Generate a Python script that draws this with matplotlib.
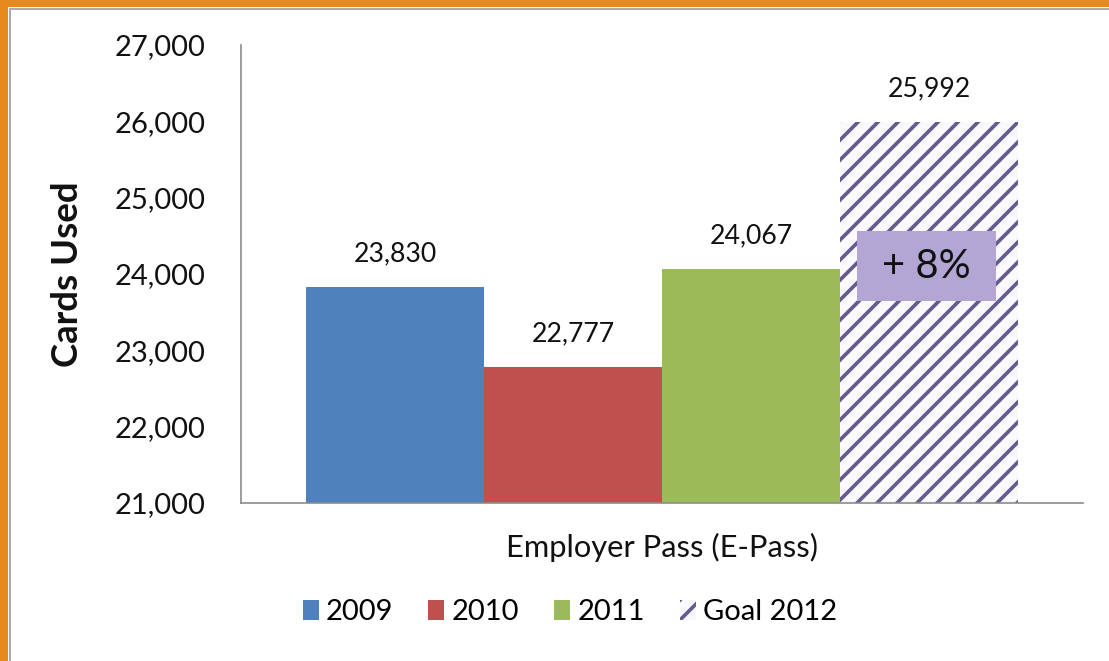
import matplotlib
matplotlib.use("Agg")
import matplotlib.pyplot as plt
from matplotlib.patches import Rectangle, Patch
from matplotlib.transforms import blended_transform_factory

# ---- data ----
categories = ["Employer Pass (E-Pass)"]
series_names = ["2009", "2010", "2011", "Goal 2012"]
values = [23830, 22777, 24067, 25992]
y_ticks = [21000, 22000, 23000, 24000, 25000, 26000, 27000]
y_label = "Cards Used"

# ---- style ----
colors = ["#4F81BD", "#C0504D", "#9BBB59", "#FBF8FD"]
hatch_color = "#625D8E"
font = "Lato"
DPI = 120

plt.rcParams["font.family"] = [font, "DejaVu Sans"]
plt.rcParams["hatch.linewidth"] = 2.2

fig = plt.figure(figsize=(1109 / DPI, 661 / DPI), dpi=DPI)
fig.patch.set_facecolor("white")

# frame: orange strips along top/left, thin grey inner rule
W, H = 1109, 661
def px_rect(x0, y0, w, h, color):
    fig.add_artist(Rectangle((x0 / W, 1 - (y0 + h) / H), w / W, h / H,
                             transform=fig.transFigure, facecolor=color,
                             edgecolor="none", zorder=0))
px_rect(0, 0, W, 6.5, "#E8891E")
px_rect(0, 0, 7.5, H, "#E8891E")
px_rect(9, 8, W, 2, "#ABABAB")
px_rect(9, 8, 2, H, "#ABABAB")

ax = fig.add_axes([241 / W, 1 - 503 / H, (1083 - 241) / W, (503 - 45) / H])

n = len(values)
width = 0.2114
offsets = [(i - (n - 1) / 2) * width for i in range(n)]

for i, (name, v) in enumerate(zip(series_names, values)):
    if i == n - 1:
        ax.bar(offsets[i], v - y_ticks[0], bottom=y_ticks[0], width=width,
               facecolor=colors[i], edgecolor=hatch_color, linewidth=0,
               hatch="//", label=name, zorder=2)
    else:
        ax.bar(offsets[i], v - y_ticks[0], bottom=y_ticks[0], width=width,
               color=colors[i], linewidth=0, label=name, zorder=2)
    ax.annotate(f"{v:,}", xy=(offsets[i], v), xytext=(0, 20),
                textcoords="offset points", ha="center", va="center",
                fontsize=16, color="#111111")

# growth badge on the goal bar
growth = round((values[-1] / values[-2] - 1) * 100)
trans = blended_transform_factory(ax.transData, ax.transAxes)
badge_w = 0.164
ax.add_patch(Rectangle((offsets[-1] - badge_w / 2 - 0.003, 0.441), badge_w, 0.153,
                       transform=trans, facecolor="#B3A6D5", edgecolor="none",
                       zorder=3))
ax.text(offsets[-1] - 0.003, 0.517, f"+ {growth}%", transform=trans,
        ha="center", va="center", fontsize=24, color="#111111", zorder=4)

ax.set_xlim(-0.5, 0.5)
ax.set_ylim(y_ticks[0], y_ticks[-1])
ax.set_yticks(y_ticks)
ax.set_yticklabels([f"{t:,}" for t in y_ticks], fontsize=17.5, color="#111111")
ax.set_xticks([0])
ax.set_xticklabels(categories, fontsize=18.5, color="#111111")
ax.tick_params(axis="y", length=0, pad=21)
ax.tick_params(axis="x", length=0, pad=18)

ax.set_ylabel(y_label, fontsize=22, fontweight="bold", color="#111111")
ax.yaxis.set_label_coords(-0.186, 0.5)

for s in ["top", "right"]:
    ax.spines[s].set_visible(False)
for s in ["left", "bottom"]:
    ax.spines[s].set_color("#8C8C8C")
    ax.spines[s].set_linewidth(1.0)

handles = [Patch(facecolor=colors[0]), Patch(facecolor=colors[1]),
           Patch(facecolor=colors[2]),
           Patch(facecolor=colors[3], edgecolor=hatch_color, linewidth=0, hatch="//")]
fig.legend(handles, series_names, loc="center", ncol=4,
           bbox_to_anchor=(570 / W, 1 - 612 / H), frameon=False,
           fontsize=17.5, handlelength=0.55, handleheight=0.7,
           handletextpad=0.25, columnspacing=1.2)

fig.savefig("out.png", dpi=DPI, facecolor="white")
